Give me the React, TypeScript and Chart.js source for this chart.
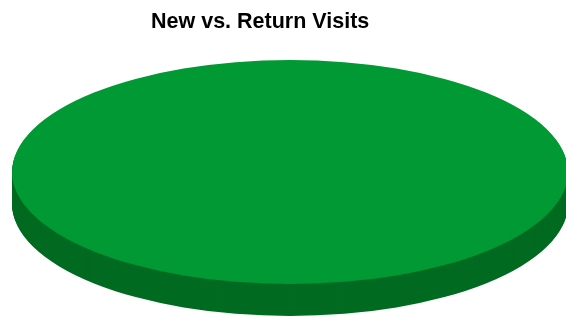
import React, { useEffect, useRef } from "react";
import { Chart, registerables } from "chart.js";

Chart.register(...registerables);

const titleText = "New vs. Return Visits";
const categories = ["New Visits", "Return Visits"];
const visitShares = [100, 0];
const sliceColors = ["#009933", "#3366cc"];
const sideColors = ["#006b21", "#224488"];

const pie3d = {
  id: "pie3d",
  beforeDatasetsDraw(chart: any, _args: any, opts: any) {
    const ctx = chart.ctx;
    const meta = chart.getDatasetMeta(0);
    const f = opts.tilt;
    const depth = opts.depth;
    ctx.save();
    meta.data.forEach((arc: any, i: number) => {
      const { x, y, outerRadius, startAngle, endAngle } = arc.getProps(
        ["x", "y", "outerRadius", "startAngle", "endAngle"],
        true
      );
      if (endAngle - startAngle <= 0) return;
      ctx.fillStyle = opts.sideColors[i];
      for (let d = depth; d > 0; d--) {
        ctx.beginPath();
        ctx.moveTo(x, y + d);
        ctx.ellipse(x, y + d, outerRadius, outerRadius * f, 0, startAngle, endAngle);
        ctx.closePath();
        ctx.fill();
      }
    });
    ctx.restore();
    const a0 = meta.data[0];
    ctx.save();
    ctx.translate(a0.x, a0.y);
    ctx.scale(1, f);
    ctx.translate(-a0.x, -a0.y);
  },
  afterDatasetsDraw(chart: any) {
    chart.ctx.restore();
  },
};

export default function App() {
  const ref = useRef<HTMLCanvasElement>(null);
  useEffect(() => {
    if (!ref.current) return;
    const chart = new Chart(ref.current, {
      type: "pie",
      data: {
        labels: categories,
        datasets: [
          {
            data: visitShares,
            backgroundColor: sliceColors,
            borderWidth: 0,
            radius: 278,
          } as any,
        ],
      },
      options: {
        responsive: false,
        animation: false,
        layout: { padding: { left: 151, right: 137, top: 0, bottom: 34 } },
        plugins: {
          legend: { display: false },
          tooltip: { enabled: false },
          title: {
            display: true,
            text: titleText,
            align: "start",
            color: "#000000",
            font: { family: "'Liberation Sans', Arial, sans-serif", size: 21.5, weight: "bold" },
            padding: { top: 9.5, bottom: 24.7 },
          },
          pie3d: { tilt: 112 / 278, depth: 32, sideColors },
        } as any,
      },
      plugins: [pie3d],
    });
    return () => chart.destroy();
  }, []);
  return (
    <div style={{ position: "fixed", left: 0, top: 0, width: 566, height: 318, background: "#fff" }}>
      <canvas ref={ref} width={566} height={318} />
    </div>
  );
}
